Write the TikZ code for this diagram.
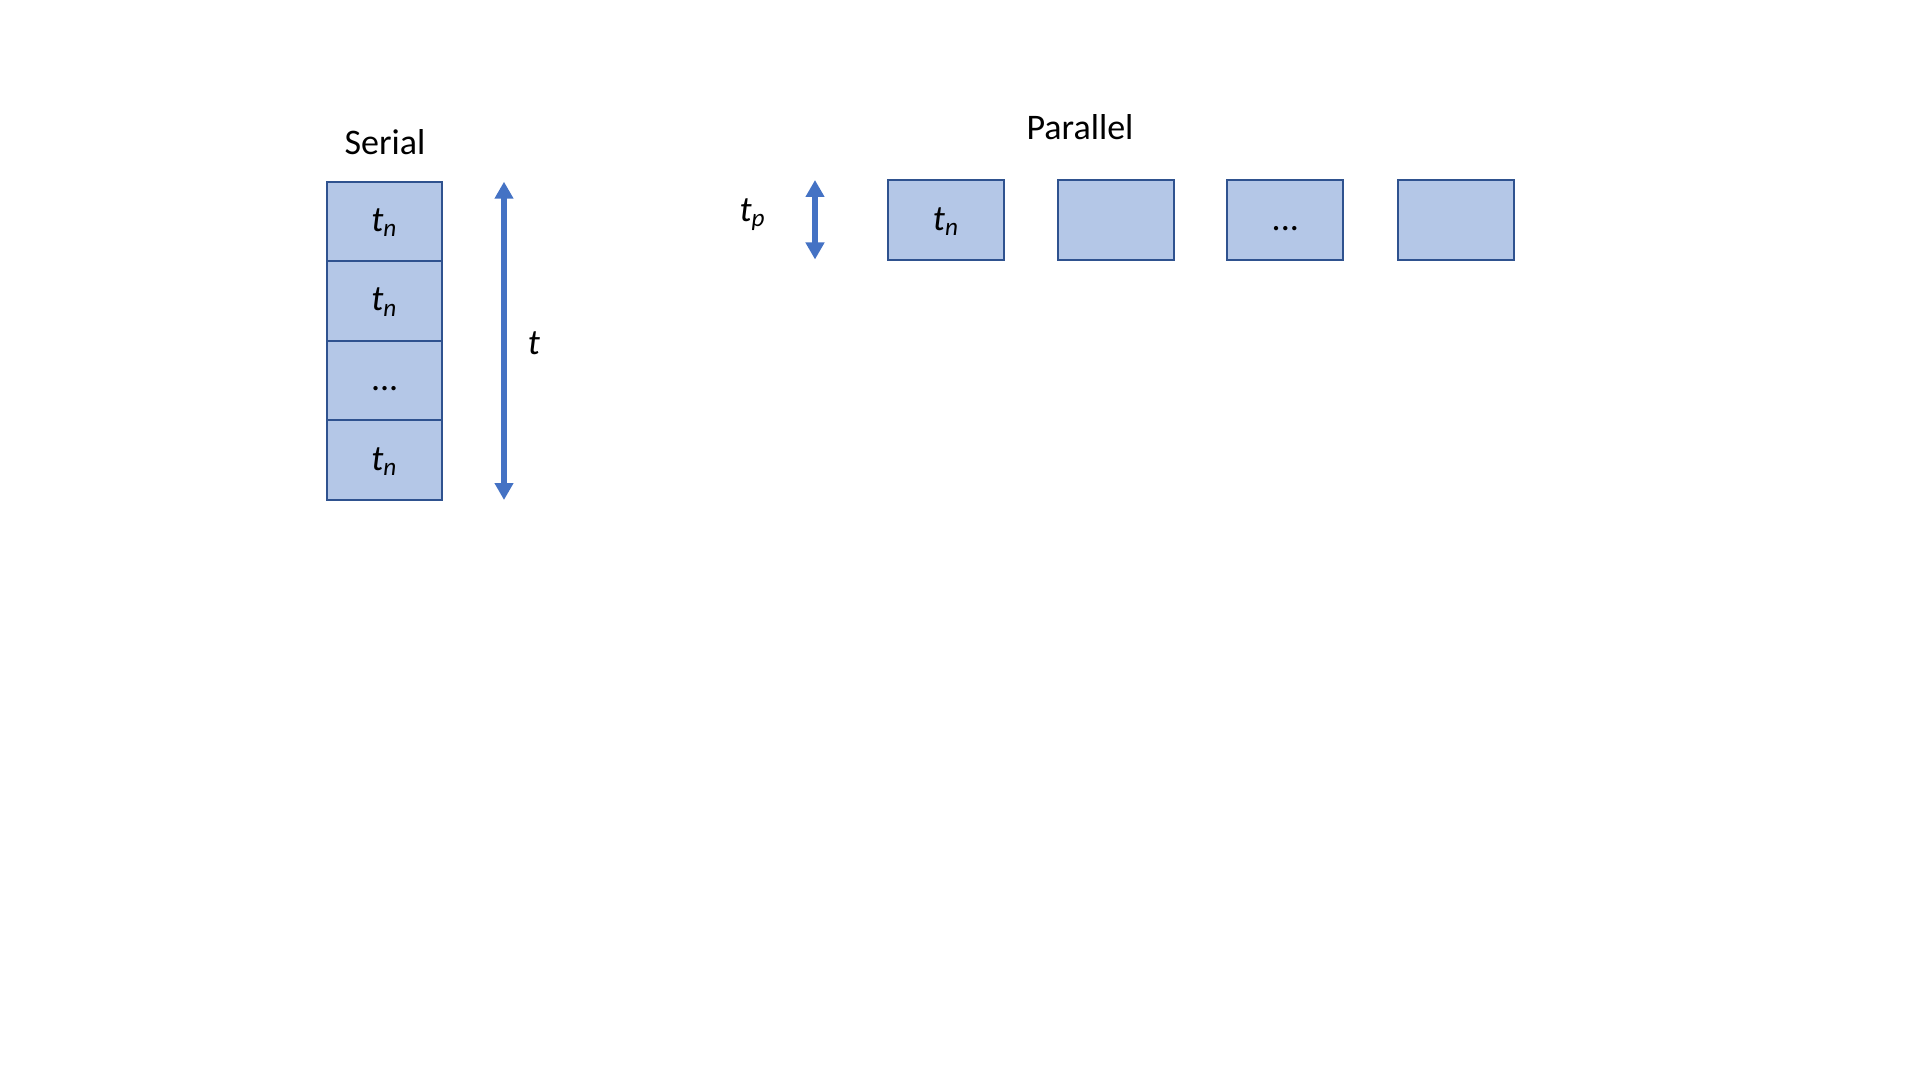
\documentclass[tikz,border=0pt]{standalone}
\usepackage{fontspec}
\setmainfont{Carlito}
\usetikzlibrary{positioning, arrows.meta}

\definecolor{boxfill}{HTML}{B4C7E7}
\definecolor{boxline}{HTML}{2F528F}
\definecolor{arrowblue}{HTML}{4472C4}

\tikzset{
  taskbox/.style={draw=boxline, fill=boxfill, line width=0.6pt, inner sep=0pt, outer sep=0pt,
    minimum width=1.15cm, minimum height=0.795cm, text height=0.25cm, text depth=0.05cm},
  timearrow/.style={draw=arrowblue, line width=1.45pt,
    {Triangle[width=0.18cm,length=0.17cm]}-{Triangle[width=0.18cm,length=0.17cm]}},
  lbl/.style={font=\fontsize{10.24}{12}\selectfont, inner sep=0pt}
}
\newcommand{\tn}{\textit{t}\textsubscript{\textit{n}}}

\begin{document}
\begin{tikzpicture}
\useasboundingbox (0,0) rectangle (19.2,-10.8);
% serial
\node[lbl] (sertitle) at (3.85,-1.42) {Serial};
\node[taskbox, lbl, minimum width=1.15cm, minimum height=0.795cm] (s1) at (3.847,-2.215) {\tn};
\node[taskbox, lbl, minimum width=1.15cm, minimum height=0.795cm, below=0pt of s1] (s2) {\tn};
\node[taskbox, lbl, minimum width=1.15cm, minimum height=0.795cm, below=0pt of s2] (s3) {...};
\node[taskbox, lbl, minimum width=1.15cm, minimum height=0.795cm, below=0pt of s3] (s4) {\tn};
\coordinate (ttop) at (5.04,-1.817);
\coordinate (tbot) at (5.04,-5.0);
\draw[timearrow] (ttop) -- (tbot); % total time
\node[lbl] (tlabel) at (5.34,-3.43) {\textit{t}};
% parallel
\node[lbl] (partitle) at (10.8,-1.27) {Parallel};
\node[taskbox, lbl, minimum width=1.16cm, minimum height=0.80cm] (p1) at (9.463,-2.203) {\tn};
\node[taskbox, lbl, minimum width=1.16cm, minimum height=0.80cm, right=0.54cm of p1] (p2) {};
\node[taskbox, lbl, minimum width=1.16cm, minimum height=0.80cm, right=0.53cm of p2] (p3) {...};
\node[taskbox, lbl, minimum width=1.16cm, minimum height=0.80cm, right=0.55cm of p3] (p4) {};
\coordinate (ptop) at (8.15,-1.80);
\coordinate (pbot) at (8.15,-2.595);
\draw[timearrow] (ptop) -- (pbot); % parallel time
\node[lbl] (tplabel) at (7.53,-2.15) {\textit{t}\textsubscript{\textit{p}}};
\end{tikzpicture}
\end{document}
